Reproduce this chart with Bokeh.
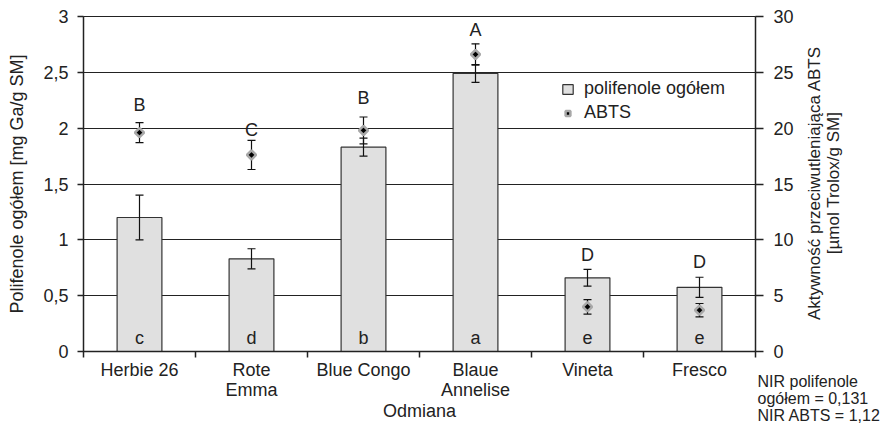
import math
from bokeh.plotting import figure
from bokeh.models import (Range1d, LinearAxis, FixedTicker, Whisker, ColumnDataSource,
                          Label, Legend, LegendItem, TeeHead, Title)
from bokeh.core.properties import value
from bokeh.embed import file_html
from bokeh.resources import INLINE

# ---- data ----
categories = ["Herbie 26", "Rote\nEmma", "Blue Congo", "Blaue\nAnnelise", "Vineta", "Fresco"]
polifenole = [1.20, 0.83, 1.83, 2.49, 0.66, 0.575]
polifenole_err = [0.20, 0.09, 0.08, 0.08, 0.075, 0.09]
abts = [19.6, 17.6, 19.8, 26.6, 4.0, 3.7]
abts_err = [0.9, 1.3, 1.2, 0.95, 0.65, 0.6]
letters_abts = ["B", "C", "B", "A", "D", "D"]
letters_abts_y = [22.05, 19.8, 22.7, 28.8, 8.6, 8.05]   # where the letters sit (ABTS scale)
letters_pol = ["c", "d", "b", "a", "e", "e"]
left_ticks = [0, 0.5, 1, 1.5, 2, 2.5, 3]
right_ticks = [0, 5, 10, 15, 20, 25, 30]
left_title = "Polifenole ogółem [mg Ga/g SM]"
right_title = "Aktywność przeciwutleniająca ABTS\n[µmol Trolox/g SM]"
x_title = "Odmiana"
nir_note = "NIR polifenole\nogółem = 0,131\nNIR ABTS = 1,12"

FONT = "Liberation Sans"
INK = "#222222"
n = len(categories)

xs = [i + 0.5 for i in range(n)]
src = ColumnDataSource(dict(
    x=xs, pol=polifenole,
    pol_up=[p + e for p, e in zip(polifenole, polifenole_err)],
    pol_lo=[p - e for p, e in zip(polifenole, polifenole_err)],
    abts=abts,
    abts_up=[a + e for a, e in zip(abts, abts_err)],
    abts_lo=[a - e for a, e in zip(abts, abts_err)],
    up=letters_abts, up_y=letters_abts_y, lo=letters_pol, zero=[0] * n,
))

p = figure(width=880, height=423, x_range=Range1d(0, n), y_range=Range1d(left_ticks[0], left_ticks[-1]),
           output_backend="svg", toolbar_location=None,
           min_border_left=83, min_border_right=125, min_border_top=16, min_border_bottom=71)
p.extra_y_ranges = {"abts": Range1d(right_ticks[0], right_ticks[-1])}
p.outline_line_color = INK
p.outline_line_width = 1
p.background_fill_color = "white"
p.border_fill_color = "white"

# grid
p.xgrid.visible = False
p.ygrid.ticker = FixedTicker(ticks=left_ticks)
p.ygrid.grid_line_color = INK
p.ygrid.grid_line_width = 1

# x axis: labels at centres, ticks between categories
xa = p.xaxis[0]
xa.ticker = FixedTicker(ticks=xs, minor_ticks=list(range(n + 1)))
xa.major_label_overrides = {x: c for x, c in zip(xs, categories)}
xa.major_tick_line_color = None
xa.major_tick_out = 6
xa.minor_tick_out = 6
xa.minor_tick_in = 0
xa.minor_tick_line_color = INK
xa.minor_tick_line_width = 1.5
xa.axis_line_color = INK
xa.axis_line_width = 1.5
xa.major_label_standoff = 2
xa.major_label_text_font = FONT
xa.major_label_text_font_size = "18px"
xa.major_label_text_color = INK
xa.major_label_text_line_height = 1.0
xa.axis_label = x_title
xa.axis_label_text_font = FONT
xa.axis_label_text_font_size = "18px"
xa.axis_label_text_font_style = "normal"
xa.axis_label_text_color = INK
xa.axis_label_text_line_height = 1.0
xa.axis_label_standoff = -2

# left axis
ya = p.yaxis[0]
ya.ticker = FixedTicker(ticks=left_ticks, minor_ticks=[])
ya.major_label_overrides = {t: f"{t:g}".replace(".", ",") for t in left_ticks}
ya.major_tick_out = 6
ya.major_tick_in = 0
ya.major_tick_line_color = INK
ya.major_tick_line_width = 1.5
ya.axis_line_color = INK
ya.axis_line_width = 1.5
ya.major_label_standoff = 9
ya.major_label_text_font = FONT
ya.major_label_text_font_size = "18px"
ya.major_label_text_color = INK
ya.axis_label = left_title
ya.axis_label_text_font = FONT
ya.axis_label_text_font_size = "18px"
ya.axis_label_text_font_style = "normal"
ya.axis_label_text_color = INK
ya.axis_label_standoff = 13

# right axis
ra = LinearAxis(y_range_name="abts", ticker=FixedTicker(ticks=right_ticks, minor_ticks=[]))
ra.major_tick_out = 8
ra.major_tick_in = 0
ra.major_tick_line_color = INK
ra.major_tick_line_width = 1.5
ra.axis_line_color = INK
ra.axis_line_width = 1.5
ra.major_label_standoff = 10
ra.major_label_text_font = FONT
ra.major_label_text_font_size = "18px"
ra.major_label_text_color = INK
p.add_layout(ra, "right")

# bars
bars = p.vbar(x="x", top="pol", width=0.4, source=src, fill_color="#e0e0e0",
              line_color="#333333", line_width=1.2)

# error bars
for up, lo, rng in (("pol_up", "pol_lo", "default"), ("abts_up", "abts_lo", "abts")):
    p.add_layout(Whisker(base="x", upper=up, lower=lo, source=src, y_range_name=rng,
                         level="annotation", line_color="#111111", line_width=1.2,
                         upper_head=TeeHead(size=8, line_color="#111111", line_width=1.2),
                         lower_head=TeeHead(size=8, line_color="#111111", line_width=1.2)))

# ABTS points
pts = p.scatter(x="x", y="abts", source=src, y_range_name="abts", marker="square", angle=math.pi / 4,
                size=6.5, fill_color="black", line_color="#a8a8a8", line_width=2.5, level="overlay")

# significance letters
p.text(x="x", y="up_y", text="up", source=src, y_range_name="abts",
       text_align="center", text_baseline="middle", text_font=value(FONT),
       text_font_size="18px", text_color=INK)
p.text(x="x", y="zero", text="lo", source=src, y_offset=-14,
       text_align="center", text_baseline="alphabetic", text_font=value(FONT),
       text_font_size="18px", text_color=INK)

# legend
legend = Legend(items=[LegendItem(label="polifenole ogółem", renderers=[bars]),
                       LegendItem(label="ABTS", renderers=[pts])],
                location=(478, 228), border_line_color=None, background_fill_alpha=0,
                padding=0, margin=0, spacing=3, glyph_width=13, glyph_height=12,
                label_standoff=10, label_text_font=FONT, label_text_font_size="18px",
                label_text_color=INK)
p.add_layout(legend)

# right-hand title (side panel, so it is not clipped to the frame)
p.add_layout(Label(x=6.616, y=1.509, text=right_title, angle=math.pi / 2, text_align="center",
                   text_baseline="middle", text_font=FONT, text_font_size="17px", text_color=INK,
                   text_line_height=1.0), "right")

# note at the bottom right: a title below the x axis, pulled up beside it
p.add_layout(Title(text=nir_note, align="left", vertical_align="top", offset=674, standoff=-101,
                   text_font=FONT, text_font_size="16px", text_font_style="normal",
                   text_color=INK, text_line_height=1.0), "below")

open("out.html", "w").write(file_html(p, INLINE))
